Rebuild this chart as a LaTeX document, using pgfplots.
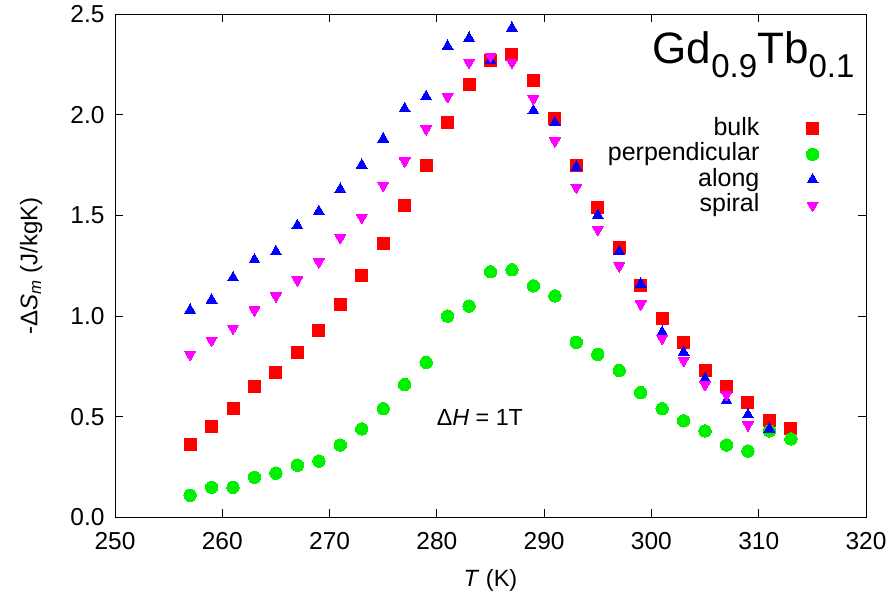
\documentclass[border=0pt]{standalone}
\usepackage{fontspec}
\setmainfont{Liberation Sans}
\usepackage{pgfplots}
\pgfplotsset{compat=1.18}
\definecolor{pgreen}{RGB}{0,240,0}
\definecolor{pred}{RGB}{255,0,0}
\definecolor{pblue}{RGB}{0,0,255}
\definecolor{pmag}{RGB}{255,0,255}
\begin{document}
\begin{tikzpicture}
\useasboundingbox (-115pt,-83.5pt) rectangle (778pt,517.5pt);
\begin{axis}[
  at={(0,0)}, anchor=south west,
  scale only axis, width=751pt, height=503.5pt,
  xmin=250, xmax=320, ymin=0, ymax=2.5,
  xtick={250,260,...,320}, ytick={0,0.5,...,2.5},
  tick align=inside, major tick length=8pt,
  axis line style={line width=0.9pt},
  tick style={line width=0.9pt, black},
  font=\fontsize{24}{28}\selectfont,
  ticklabel style={font=\fontsize{24.5}{28}\selectfont},
  /pgf/number format/assume math mode=true,
  xticklabel style={yshift=-11pt},
  yticklabel style={xshift=-7pt, /pgf/number format/.cd, fixed, fixed zerofill, precision=1},
  xlabel={\textit{T} (K)},
  ylabel={-Δ\textit{S}\textsubscript{\textit{m}} (J/kgK)},
  xlabel style={font=\fontsize{23.5}{26}\selectfont, at={(axis description cs:0.5,0)}, anchor=base, yshift=-69pt},
  ylabel style={font=\fontsize{24}{26}\selectfont, at={(axis description cs:-0.1032,0.5)}, anchor=base},
  legend plot pos=right,
  legend cell align=right,
  legend style={draw=none, fill=none, inner sep=0pt,
    at={(axis description cs:0.9374,0.7964)}, anchor=north east,
    font=\fontsize{25}{26}\selectfont,
    nodes={inner sep=0pt, text height=18.5pt, text depth=5.5pt},
    row sep=1.5pt},
  legend image code/.code={\path (0pt,0pt); \draw[#1] plot coordinates {(53pt,0pt)};},
]
\addplot[only marks, mark=square*, color=pred, mark size=6pt, mark options={line width=0pt}] coordinates {
(257,0.36) (259,0.45) (261,0.54) (263,0.65) (265,0.72) (267,0.82) (269,0.93) (271,1.06)
(273,1.20) (275,1.36) (277,1.55) (279,1.75) (281,1.96) (283,2.15) (285,2.27) (287,2.30)
(289,2.17) (291,1.98) (293,1.75) (295,1.54) (297,1.34) (299,1.15) (301,0.99) (303,0.87)
(305,0.73) (307,0.65) (309,0.57) (311,0.48) (313,0.44)};
\addlegendentry{bulk}
\addplot[only marks, mark=*, color=pgreen, mark size=6.2pt, mark options={line width=0pt}] coordinates {
(257,0.11) (259,0.15) (261,0.15) (263,0.20) (265,0.22) (267,0.26) (269,0.28) (271,0.36)
(273,0.44) (275,0.54) (277,0.66) (279,0.77) (281,1.00) (283,1.05) (285,1.22) (287,1.23)
(289,1.15) (291,1.10) (293,0.87) (295,0.81) (297,0.73) (299,0.62) (301,0.54) (303,0.48)
(305,0.43) (307,0.36) (309,0.33) (311,0.43) (313,0.39)};
\addlegendentry{perpendicular}
\addplot[only marks, mark=triangle*, color=pblue, mark size=6.3pt, mark options={line width=0pt}] coordinates {
(257,1.03) (259,1.08) (261,1.19) (263,1.28) (265,1.32) (267,1.45) (269,1.52) (271,1.63)
(273,1.75) (275,1.88) (277,2.03) (279,2.09) (281,2.34) (283,2.38) (285,2.27) (287,2.43)
(289,2.02) (291,1.96) (293,1.74) (295,1.50) (297,1.32) (299,1.16) (301,0.92) (303,0.82)
(305,0.69) (307,0.58) (309,0.51) (311,0.44)};
\addlegendentry{along}
\addplot[only marks, mark=triangle*, color=pmag, mark size=6.3pt, mark options={line width=0pt, rotate=180}] coordinates {
(257,0.81) (259,0.88) (261,0.94) (263,1.03) (265,1.10) (267,1.18) (269,1.27) (271,1.39)
(273,1.49) (275,1.65) (277,1.77) (279,1.93) (281,2.09) (283,2.26) (285,2.29) (287,2.26)
(289,2.08) (291,1.87) (293,1.64) (295,1.43) (297,1.25) (299,1.06) (301,0.89) (303,0.78)
(305,0.66) (307,0.61) (309,0.46)};
\addlegendentry{spiral}
\node[anchor=base west, inner sep=0pt, font=\fontsize{44}{46}\selectfont] at (axis cs:300.1,2.255)
  {Gd\raisebox{-14pt}{\fontsize{33}{33}\selectfont 0.9}Tb\raisebox{-14pt}{\fontsize{33}{33}\selectfont 0.1}};
\node[anchor=base west, inner sep=0pt, font=\fontsize{23.3}{25}\selectfont] at (axis cs:279.98,0.459)
  {Δ\textit{H} = 1T};
\end{axis}
\end{tikzpicture}
\end{document}
